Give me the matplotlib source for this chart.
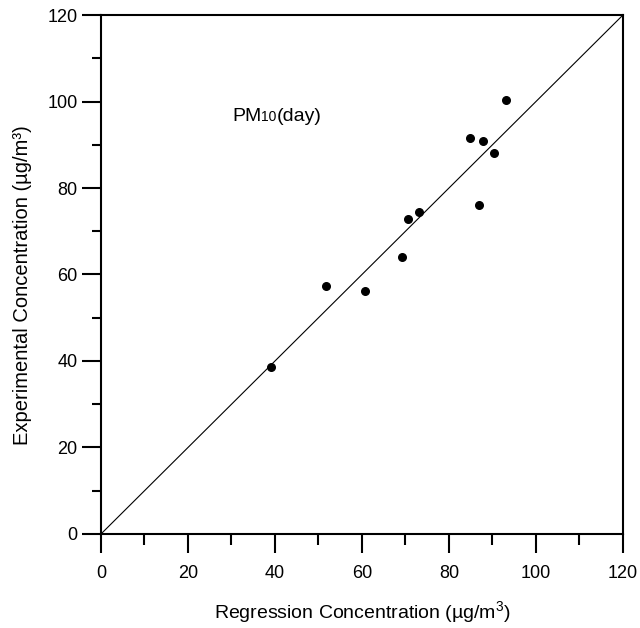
import matplotlib
matplotlib.use("Agg")
import matplotlib.pyplot as plt
from matplotlib.ticker import MultipleLocator
from matplotlib.offsetbox import TextArea, HPacker, AnnotationBbox

plt.rcParams['font.family'] = ['Liberation Sans', 'DejaVu Sans']
plt.rcParams['mathtext.fontset'] = 'custom'
plt.rcParams['mathtext.rm'] = 'Liberation Sans'
plt.rcParams['mathtext.it'] = 'Liberation Sans:italic'

regression = [39.0, 51.8, 60.6, 69.2, 70.6, 73.1, 84.8, 86.9, 87.9, 90.4, 93.1]
experimental = [38.5, 57.4, 56.2, 64.1, 72.8, 74.4, 91.6, 76.0, 90.9, 88.0, 100.3]
line_x = [0, 120]
line_y = [0, 120]
x_ticks = [0, 20, 40, 60, 80, 100, 120]
y_ticks = [0, 20, 40, 60, 80, 100, 120]

fig = plt.figure(figsize=(6.4, 6.28), dpi=100)
ax = fig.add_axes([0.1578, 0.1497, 0.8156, 0.8264])

ax.plot(line_x, line_y, color='black', lw=0.8)
ax.scatter(regression, experimental, s=30, color='black', zorder=3)

ax.set_xlim(0, 120)
ax.set_ylim(0, 120)
ax.set_xticks(x_ticks)
ax.set_yticks(y_ticks)
ax.xaxis.set_minor_locator(MultipleLocator(10))
ax.yaxis.set_minor_locator(MultipleLocator(10))

for s in ax.spines.values():
    s.set_linewidth(1.5)

ax.tick_params(axis='x', which='major', direction='out', length=14, width=1.5, pad=8, labelsize=13)
ax.tick_params(axis='x', which='minor', direction='out', length=8, width=1.5)
ax.tick_params(axis='y', which='major', direction='out', length=14, width=1.5, pad=3, labelsize=13)
ax.tick_params(axis='y', which='minor', direction='out', length=6.5, width=1.5)

ax.set_xlabel(r'Regression Concentration (µg/m$^{\mathregular{3}}$)', fontsize=14, va='center')
ax.xaxis.set_label_coords(0.5, -0.150)
ax.set_ylabel('Experimental Concentration (µg/m³)', fontsize=14.5, va='center')
ax.yaxis.set_label_coords(-0.151, 0.48)

# PM10(day) annotation
t1 = TextArea('PM', textprops=dict(fontsize=14))
t2 = TextArea('10', textprops=dict(fontsize=10))
t3 = TextArea('(day)', textprops=dict(fontsize=14))
pack = HPacker(children=[t1, t2, t3], align='baseline', pad=0, sep=0)
ab = AnnotationBbox(pack, (30.1, 96.5), xycoords='data', box_alignment=(0, 0.5), frameon=False)
ax.add_artist(ab)

fig.savefig('out.png', dpi=100)
